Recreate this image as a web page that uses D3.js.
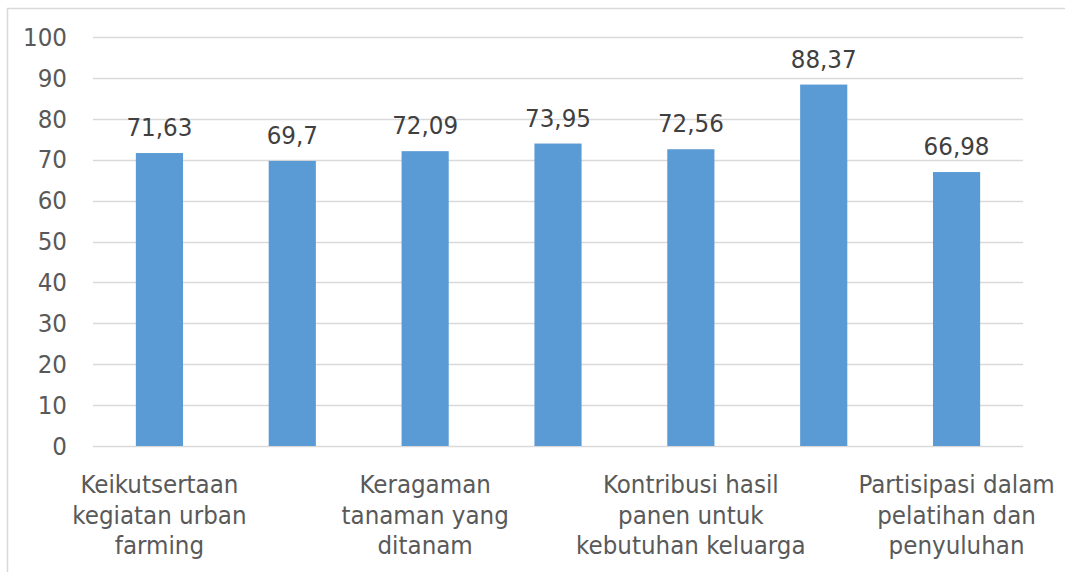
<!DOCTYPE html>
<html>
<head>
<meta charset="utf-8">
<script src="https://cdn.jsdelivr.net/npm/d3@7"></script>
<style>
  body { margin: 0; background: #fff; }
  svg text { font-family: "DejaVu Sans Condensed", "DejaVu Sans", sans-serif; }
</style>
</head>
<body>
<div id="chart"></div>
<script>
// categories (every other label is hidden on the x axis, like the original)
var categories = [
    "Keikutsertaan\nkegiatan urban\nfarming",
    "",
    "Keragaman\ntanaman yang\nditanam",
    "",
    "Kontribusi hasil\npanen untuk\nkebutuhan keluarga",
    "",
    "Partisipasi dalam\npelatihan dan\npenyuluhan"
];
var values = [71.63, 69.7, 72.09, 73.95, 72.56, 88.37, 66.98];
var valueLabels = ["71,63", "69,7", "72,09", "73,95", "72,56", "88,37", "66,98"];
var yTicks = [0, 10, 20, 30, 40, 50, 60, 70, 80, 90, 100];

var width = 1065,
    height = 572,
    fontSize = 25.6,
    margin = {top: 37, right: 42, bottom: 126, left: 93};

var svg = d3.select("#chart").append("svg")
    .attr("width", width)
    .attr("height", height);

// chart frame
svg.append("rect")
    .attr("x", 7.5)
    .attr("y", 8.5)
    .attr("width", width)
    .attr("height", height)
    .attr("fill", "none")
    .attr("stroke", "#d9d9d9")
    .attr("stroke-width", 1.5);

var x = d3.scaleBand()
    .domain(d3.range(values.length))
    .range([margin.left, width - margin.right])
    .paddingInner(0.645)
    .paddingOuter(0.3225);

var y = d3.scaleLinear()
    .domain([0, 100])
    .range([height - margin.bottom, margin.top]);

// gridlines
svg.append("g")
    .selectAll("line")
    .data(yTicks)
    .enter().append("line")
    .attr("x1", margin.left)
    .attr("x2", width - margin.right)
    .attr("y1", function(d) { return Math.round(y(d)) + 0.5; })
    .attr("y2", function(d) { return Math.round(y(d)) + 0.5; })
    .attr("stroke", "#d9d9d9")
    .attr("stroke-width", 1.5);

// y axis labels
var yAxis = d3.axisLeft(y).tickValues(yTicks).tickSize(0).tickPadding(26);
var ya = svg.append("g")
    .attr("transform", "translate(" + margin.left + ",0)")
    .call(yAxis);
ya.select(".domain").remove();
ya.selectAll("text")
    .attr("font-size", fontSize)
    .attr("fill", "#595959")
    .style("font-family", "'DejaVu Sans Condensed', 'DejaVu Sans', sans-serif");

// bars
svg.append("g")
    .selectAll("rect")
    .data(values)
    .enter().append("rect")
    .attr("x", function(d, i) { return x(i); })
    .attr("y", function(d) { return y(d); })
    .attr("width", x.bandwidth())
    .attr("height", function(d) { return y(0) - y(d); })
    .attr("fill", "#5b9bd5");

// data labels
svg.append("g")
    .selectAll("text")
    .data(values)
    .enter().append("text")
    .attr("x", function(d, i) { return x(i) + x.bandwidth() / 2; })
    .attr("y", function(d) { return y(d) - 17; })
    .attr("text-anchor", "middle")
    .attr("font-size", fontSize)
    .attr("fill", "#404040")
    .text(function(d, i) { return valueLabels[i]; });

// category labels
var cat = svg.append("g")
    .selectAll("text")
    .data(categories)
    .enter().append("text")
    .attr("text-anchor", "middle")
    .attr("font-size", fontSize)
    .attr("fill", "#595959")
    .attr("transform", function(d, i) {
        return "translate(" + (x(i) + x.bandwidth() / 2) + "," + 493 + ")";
    });

cat.selectAll("tspan")
    .data(function(d) { return d ? d.split("\n") : []; })
    .enter().append("tspan")
    .attr("x", 0)
    .attr("y", function(d, j) { return j * 30.5; })
    .text(function(d) { return d; });
</script>
</body>
</html>
